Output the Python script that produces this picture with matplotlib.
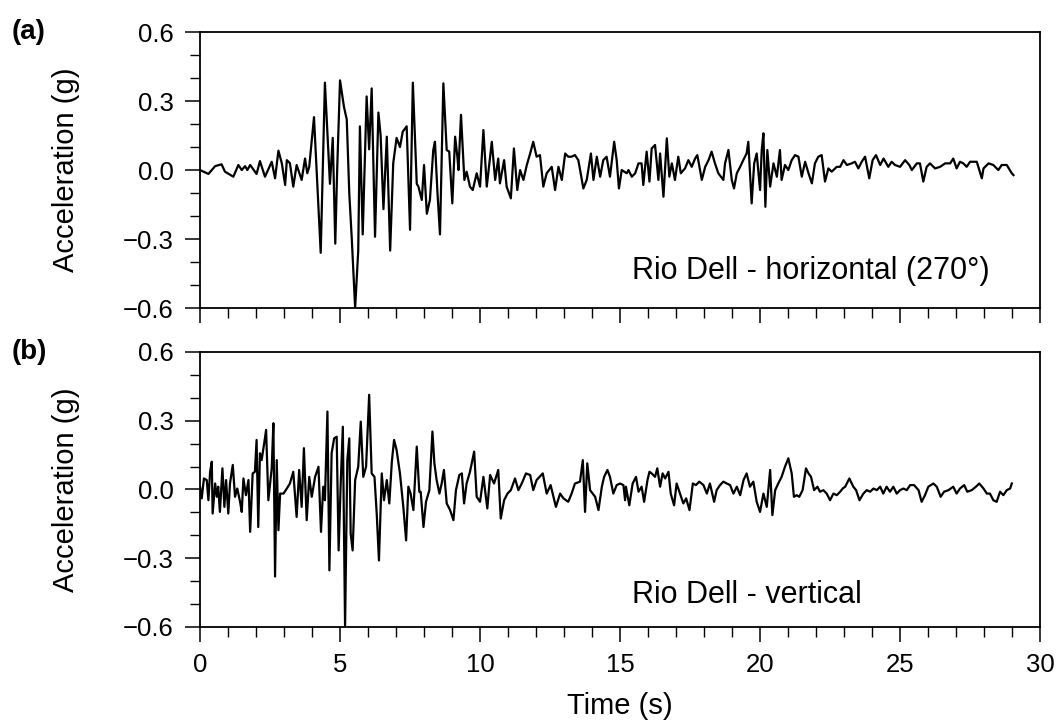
import numpy as np
import matplotlib.pyplot as plt
from matplotlib.ticker import MultipleLocator, FuncFormatter

plt.rcParams['font.family'] = ['Liberation Sans', 'DejaVu Sans']

# Rio Dell, horizontal (270 deg) component - peaks/troughs
t_h = [0.00, 0.30, 0.54, 0.77, 0.89, 1.19, 1.37, 1.49, 1.61, 1.69, 1.79, 2.02, 2.14, 2.32,
       2.56, 2.68, 2.80, 2.92, 3.04, 3.10, 3.21, 3.33, 3.45, 3.63, 3.75, 3.83, 3.90,
       4.07, 4.31, 4.46, 4.64, 4.74, 4.83, 4.90, 5.00, 5.14, 5.24, 5.33, 5.42, 5.54, 5.65,
       5.71, 5.81, 5.95, 6.04, 6.13, 6.25, 6.37, 6.45, 6.55, 6.67, 6.79, 6.90, 7.02, 7.14,
       7.24, 7.38, 7.50, 7.60, 7.74, 7.80, 7.92, 8.00, 8.10, 8.21, 8.33, 8.39, 8.48, 8.57,
       8.69, 8.81, 8.90, 9.01, 9.11, 9.19, 9.23, 9.32, 9.44, 9.52, 9.64, 9.74, 9.88, 10.00,
       10.12, 10.24, 10.42, 10.54, 10.65, 10.71, 10.86, 10.95, 11.10, 11.21, 11.33, 11.43,
       11.55, 11.67, 11.79, 11.90, 12.02, 12.14, 12.26, 12.38, 12.56, 12.68, 12.80, 12.92,
       13.04, 13.15, 13.27, 13.39, 13.51, 13.69, 13.81, 13.96, 14.05, 14.17, 14.29, 14.40,
       14.52, 14.64, 14.79, 14.88, 14.96, 15.06, 15.24, 15.30, 15.42, 15.54, 15.66, 15.77,
       15.83, 15.95, 16.05, 16.13, 16.25, 16.37, 16.43, 16.55, 16.67, 16.76, 16.85, 16.96,
       17.08, 17.17, 17.32, 17.44, 17.56, 17.68, 17.76, 17.92, 18.04, 18.16, 18.27, 18.39,
       18.51, 18.69, 18.75, 18.87, 18.99, 19.07, 19.17, 19.29, 19.40, 19.52, 19.58, 19.70,
       19.79, 19.88, 20.00, 20.06, 20.12, 20.19, 20.26, 20.36, 20.48, 20.60, 20.71, 20.77,
       20.89, 21.01, 21.13, 21.25, 21.37, 21.49, 21.61, 21.73, 21.85, 21.96, 22.08, 22.20,
       22.32, 22.44, 22.56, 22.74, 22.86, 22.98, 23.10, 23.27, 23.39, 23.51, 23.63, 23.75,
       23.90, 24.02, 24.14, 24.29, 24.41, 24.58, 24.70, 24.82, 25.00, 25.18, 25.33, 25.42,
       25.60, 25.71, 25.83, 25.95, 26.07, 26.25, 26.43, 26.61, 26.79, 26.90, 27.02, 27.14,
       27.26, 27.38, 27.50, 27.74, 27.92, 27.98, 28.16, 28.33, 28.51, 28.63, 28.81, 28.99,
       29.05]
acc_h = [0.00, -0.017, 0.017, 0.025, -0.007, -0.029, 0.022, 0.0, 0.017, 0.0, 0.022, -0.017,
         0.039, -0.029, 0.036, -0.036, 0.084, 0.03, -0.065, 0.043, 0.03, -0.072, 0.022,
         -0.043, 0.05, -0.014, 0.014,
         0.23, -0.36, 0.38, -0.06, 0.14, -0.32, 0.01, 0.39, 0.275, 0.22, -0.10, -0.30, -0.60,
         -0.35, 0.19, -0.28, 0.32, 0.09, 0.355, -0.29, 0.25, 0.15, -0.17, 0.145, -0.35, 0.03,
         0.14, 0.10, 0.167, 0.19, -0.26, 0.38, -0.06, -0.072, -0.13, 0.022, -0.19, -0.13,
         0.087, 0.123, -0.10, -0.28, 0.377, 0.087, 0.08, -0.145, 0.145, 0.058, 0.0, 0.24,
         -0.043, -0.007, -0.072, -0.087, -0.014, -0.072, 0.174, -0.072, 0.123, -0.043, 0.05,
         -0.058, 0.043, -0.072, -0.123, 0.094, -0.087, 0.0, -0.043, 0.022, 0.072, 0.123,
         0.058, 0.065, -0.072, -0.014, 0.014, -0.087, 0.014, -0.043, 0.072, 0.058, 0.058,
         0.065, 0.043, -0.08, -0.043, 0.072, -0.043, 0.058, -0.029, 0.043, 0.058, -0.029,
         0.123, 0.043, -0.08, 0.0, -0.014, 0.0, -0.029, -0.014, 0.029, 0.029, -0.065, 0.08,
         -0.05, 0.094, 0.109, -0.043, 0.072, -0.116, 0.138, -0.029, 0.029, -0.043, 0.058,
         -0.014, 0.007, 0.043, 0.014, 0.05, 0.065, -0.043, 0.014, 0.043, 0.08, 0.029, -0.014,
         -0.043, 0.029, 0.087, -0.043, -0.08, -0.014, 0.014, 0.043, 0.072, 0.123, -0.145,
         0.029, 0.072, -0.087, 0.087, 0.16, -0.16, 0.087, -0.072, 0.029, -0.029, 0.087,
         -0.043, 0.022, 0.0, 0.043, 0.065, 0.058, -0.029, 0.036, -0.014, -0.058, 0.029,
         0.058, 0.065, -0.05, 0.007, -0.007, 0.014, 0.014, 0.043, 0.022, 0.029, 0.036, 0.007,
         0.036, 0.058, -0.036, 0.043, 0.065, 0.022, 0.05, 0.014, 0.036, 0.022, 0.014, 0.043,
         0.022, 0.0, 0.029, 0.029, -0.05, 0.014, 0.029, 0.007, 0.014, 0.029, 0.029, 0.05,
         0.007, 0.036, 0.029, 0.014, 0.036, 0.036, -0.036, 0.007, 0.029, 0.022, 0.0, 0.022,
         0.022, -0.014, -0.022]

# Rio Dell, vertical component
t_v = [0.00, 0.06, 0.14, 0.24, 0.30, 0.36, 0.42, 0.45, 0.54, 0.60, 0.65, 0.71, 0.80, 0.87,
       0.93, 1.01, 1.07, 1.17, 1.25, 1.33, 1.43, 1.49, 1.55, 1.64, 1.73, 1.79, 1.88, 1.96,
       2.02, 2.08, 2.14, 2.20, 2.29, 2.36, 2.44, 2.56, 2.62, 2.68, 2.74, 2.80, 2.86, 2.98,
       3.10, 3.21, 3.33, 3.45, 3.54, 3.63, 3.71, 3.81, 3.90, 3.99, 4.11, 4.23, 4.32, 4.40,
       4.46, 4.55, 4.62, 4.70, 4.79, 4.88, 4.95, 5.02, 5.10, 5.18, 5.26, 5.33, 5.38, 5.45,
       5.54, 5.65, 5.74, 5.83, 5.93, 6.04, 6.13, 6.23, 6.31, 6.39, 6.49, 6.57, 6.67, 6.76,
       6.85, 6.93, 7.02, 7.14, 7.26, 7.36, 7.44, 7.52, 7.62, 7.74, 7.83, 7.88, 7.98, 8.07,
       8.19, 8.30, 8.37, 8.45, 8.55, 8.63, 8.71, 8.81, 8.93, 9.05, 9.14, 9.26, 9.35, 9.43,
       9.52, 9.64, 9.79, 9.88, 10.00, 10.12, 10.26, 10.36, 10.50, 10.65, 10.74, 10.86,
       10.98, 11.10, 11.25, 11.37, 11.49, 11.64, 11.79, 11.90, 12.02, 12.24, 12.38, 12.52,
       12.71, 12.86, 12.98, 13.15, 13.27, 13.39, 13.57, 13.67, 13.75, 13.83, 13.93, 14.11,
       14.23, 14.35, 14.43, 14.55, 14.64, 14.76, 14.88, 15.00, 15.12, 15.18, 15.21, 15.33,
       15.45, 15.57, 15.66, 15.77, 15.86, 15.98, 16.05, 16.13, 16.25, 16.33, 16.43, 16.52,
       16.61, 16.73, 16.81, 16.93, 17.02, 17.14, 17.26, 17.36, 17.48, 17.60, 17.71, 17.83,
       17.98, 18.10, 18.21, 18.36, 18.45, 18.57, 18.69, 18.81, 18.93, 19.05, 19.17, 19.29,
       19.41, 19.52, 19.64, 19.76, 19.88, 20.00, 20.12, 20.24, 20.36, 20.44, 20.54, 20.65,
       20.77, 20.89, 21.01, 21.13, 21.21, 21.31, 21.40, 21.52, 21.64, 21.73, 21.82, 21.93,
       22.05, 22.14, 22.26, 22.38, 22.50, 22.62, 22.74, 22.86, 22.95, 23.04, 23.19, 23.33,
       23.43, 23.55, 23.69, 23.81, 23.93, 24.05, 24.17, 24.29, 24.40, 24.52, 24.64, 24.76,
       24.88, 25.00, 25.12, 25.24, 25.36, 25.50, 25.66, 25.77, 25.89, 26.01, 26.19, 26.31,
       26.45, 26.57, 26.73, 26.90, 27.02, 27.14, 27.29, 27.40, 27.56, 27.71, 27.83, 27.98,
       28.10, 28.21, 28.33, 28.45, 28.57, 28.69, 28.81, 28.93, 28.99]
acc_v = [0.012, -0.039, 0.048, 0.041, -0.047, 0.077, 0.121, -0.105, 0.026, -0.032, 0.012,
         -0.098, 0.092, -0.076, 0.041, -0.105, 0.026, 0.107, -0.032, 0.004, -0.054, -0.098,
         0.048, -0.025, 0.041, -0.185, 0.07, 0.077, 0.216, -0.164, 0.158, 0.128, 0.20, 0.26,
         -0.047, 0.092, 0.289, -0.38, 0.128, -0.178, -0.018, -0.018, 0.004, 0.026, 0.077,
         -0.12, 0.085, -0.076, 0.18, -0.134, 0.055, -0.032, 0.055, 0.099, -0.185, 0.012,
         -0.047, 0.34, -0.353, 0.158, 0.223, 0.23, -0.266, 0.012, 0.274, -0.60, 0.128, 0.223,
         -0.193, -0.266, 0.041, 0.099, 0.296, 0.055, 0.099, 0.413, 0.07, 0.055, -0.105, -0.31,
         0.07, -0.047, 0.041, -0.061, 0.121, 0.216, 0.172, 0.07, -0.076, -0.222, 0.012,
         -0.018, -0.09, 0.187, -0.01, -0.01, -0.164, -0.054, -0.003, 0.253, 0.114, 0.041,
         -0.018, 0.026, 0.085, -0.061, -0.09, -0.134, -0.003, 0.063, 0.07, -0.061, 0.026,
         0.077, 0.165, -0.032, -0.054, 0.055, -0.083, 0.063, 0.026, 0.085, -0.127, -0.047,
         -0.018, -0.003, 0.048, -0.003, 0.026, 0.07, 0.063, -0.003, 0.041, 0.07, -0.018,
         0.019, -0.076, -0.018, -0.039, -0.054, -0.018, 0.026, 0.034, 0.128, -0.098, 0.114,
         -0.003, -0.032, -0.09, 0.012, 0.055, 0.085, 0.055, -0.018, 0.019, 0.026, 0.019,
         -0.047, 0.012, -0.069, 0.026, 0.055, -0.01, 0.012, -0.054, 0.041, 0.077, 0.07,
         0.055, 0.092, 0.012, 0.07, 0.048, 0.077, -0.018, -0.069, 0.026, -0.018, -0.061,
         -0.039, -0.09, 0.026, 0.019, 0.034, 0.019, -0.018, 0.026, -0.054, -0.003, 0.019,
         0.034, 0.026, 0.019, -0.018, 0.012, -0.025, 0.041, 0.07, 0.012, 0.034, -0.054,
         -0.098, -0.018, -0.076, 0.085, -0.112, -0.003, 0.026, 0.055, 0.099, 0.136, 0.07,
         -0.032, -0.025, -0.032, -0.003, 0.092, 0.07, 0.055, -0.003, 0.012, -0.01, -0.003,
         -0.018, -0.047, -0.018, -0.025, -0.01, 0.004, 0.012, 0.048, 0.012, -0.003, -0.047,
         -0.018, -0.003, -0.01, 0.004, -0.003, 0.012, -0.018, 0.012, -0.01, 0.012, -0.018,
         -0.003, 0.004, -0.003, 0.019, 0.019, -0.003, -0.054, -0.025, 0.012, 0.026, 0.012,
         -0.032, -0.01, -0.003, 0.012, -0.018, 0.004, 0.019, -0.01, -0.003, 0.012, 0.026,
         0.004, -0.018, -0.018, -0.047, -0.054, -0.01, -0.025, -0.003, 0.004, 0.026]


def fmt_acc(v, pos):
    return f'{v:.1f}'.replace('-', '\u2212')


fig = plt.figure(figsize=(10.6, 7.27), dpi=100)
ax1 = fig.add_axes([0.1887, 0.5763, 0.7925, 0.3796])
ax2 = fig.add_axes([0.1887, 0.1376, 0.7925, 0.3783])

for ax, t, a in [(ax1, t_h, acc_h), (ax2, t_v, acc_v)]:
    ax.plot(t, a, color='black', lw=1.6)
    ax.set_xlim(0, 30)
    ax.set_ylim(-0.6, 0.6)
    ax.xaxis.set_major_locator(MultipleLocator(5))
    ax.xaxis.set_minor_locator(MultipleLocator(1))
    ax.yaxis.set_major_locator(MultipleLocator(0.3))
    ax.yaxis.set_minor_locator(MultipleLocator(0.1))
    ax.yaxis.set_major_formatter(FuncFormatter(fmt_acc))
    ax.tick_params(which='major', direction='out', length=11, width=1.1, labelsize=18.5)
    ax.tick_params(which='minor', direction='out', length=7, width=1.0)
    ax.tick_params(axis='y', which='major', pad=8)
    ax.tick_params(axis='x', which='major', pad=8)
    for s in ax.spines.values():
        s.set_linewidth(1.3)
    ax.set_ylabel('Acceleration (g)', fontsize=21)
    ax.yaxis.set_label_coords(-0.143, 0.5)

ax1.tick_params(axis='x', labelbottom=False)
ax2.set_xlabel('Time (s)', fontsize=21)
ax2.xaxis.set_label_coords(0.5, -0.235)

ax1.text(0.514, 0.134, 'Rio Dell - horizontal (270°)', transform=ax1.transAxes,
         fontsize=22, ha='left', va='center')
ax2.text(0.514, 0.117, 'Rio Dell - vertical', transform=ax2.transAxes,
         fontsize=22, ha='left', va='center')

fig.text(0.011, 0.956, '(a)', fontsize=20, fontweight='bold', ha='left', va='center')
fig.text(0.011, 0.516, '(b)', fontsize=20, fontweight='bold', ha='left', va='center')

fig.savefig('out.png', dpi=100)
